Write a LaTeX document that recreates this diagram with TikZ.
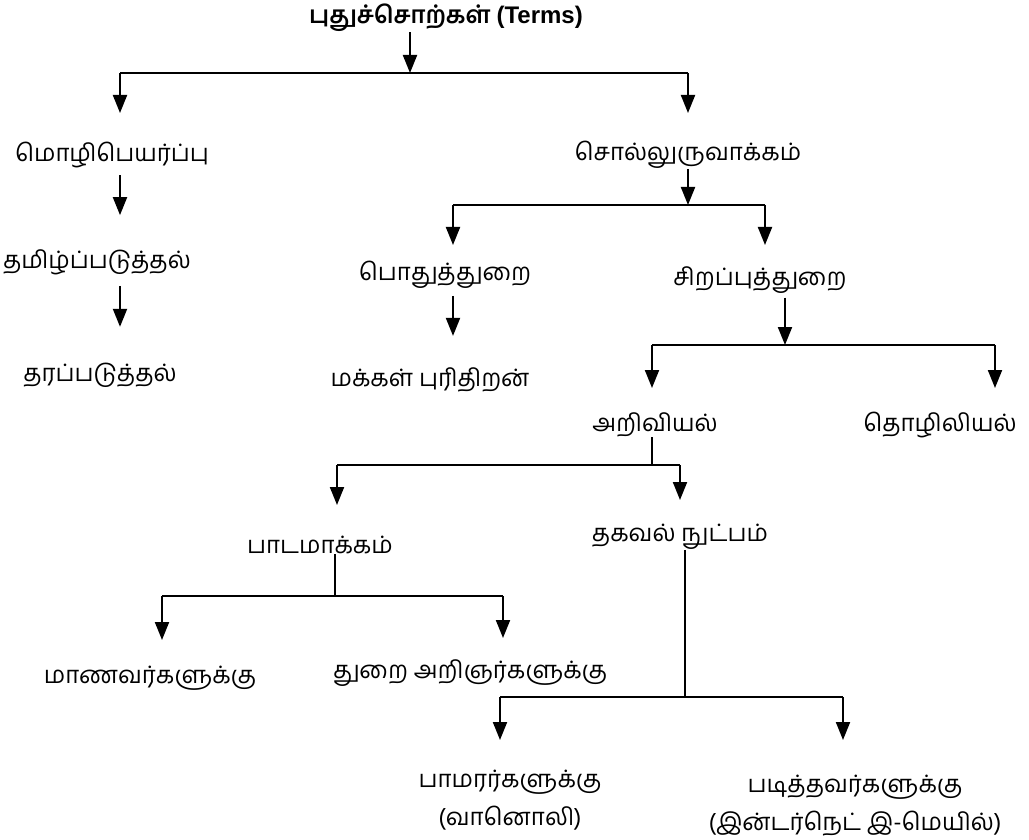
\documentclass[tikz,border=0pt]{standalone}
\usepackage{fontspec}
\setmainfont{Liberation Sans}
\newfontfamily\tamilfont[Script=Tamil]{Hind Madurai}
\usetikzlibrary{arrows.meta, positioning}
\tikzset{
    term/.style={font=\tamilfont\fontsize{24}{38}\selectfont, inner sep=0pt, align=center},
    headterm/.style={font=\tamilfont\bfseries\fontsize{24}{28}\selectfont, inner sep=0pt},
    arrowline/.style={draw, line width=2pt, -{Triangle[width=14pt,length=18pt]}},
    barline/.style={draw, line width=2pt}
}

\begin{document}
\begin{tikzpicture}[x=1pt, y=-1pt]
    \useasboundingbox (0,0) rectangle (1029,840);

    % Terms
    \node[headterm] (terms) at (446,18) {புதுச்சொற்கள் {\normalfont\bfseries (Terms)}};
    \coordinate (j0) at (410,73);
    \coordinate (b0L) at (120,73);
    \coordinate (b0R) at (688,73);
    \draw[arrowline] (terms.south -| j0) -- (j0);
    \draw[barline] (b0L) -- (b0R);
    \draw[arrowline] (b0L) -- ++(0,40);
    \draw[arrowline] (b0R) -- ++(0,40);

    % Left column
    \node[term] (mozhi) at (112,155) {மொழிபெயர்ப்பு};
    \node[term] (tamilp) at (97,262) {தமிழ்ப்படுத்தல்};
    \node[term] (tharap) at (100,375) {தரப்படுத்தல்};
    \draw[arrowline, shorten <=7pt] (mozhi.south -| b0L) -- ++(0,47);
    \draw[arrowline, shorten <=11pt] (tamilp.south -| b0L) -- ++(0,52);

    % Word formation
    \node[term] (sol) at (688,155) {சொல்லுருவாக்கம்};
    \coordinate (j1) at (688,205);
    \coordinate (b1L) at (453,205);
    \coordinate (b1R) at (765,205);
    \draw[arrowline] (sol.south) -- (j1);
    \draw[barline] (b1L) -- (b1R);
    \draw[arrowline] (b1L) -- ++(0,40);
    \draw[arrowline] (b1R) -- ++(0,40);

    \node[term] (pothu) at (445,275) {பொதுத்துறை};
    \node[term] (makkal) at (430,380) {மக்கள் புரிதிறன்};
    \draw[arrowline, shorten <=7pt] (pothu.south -| b1L) -- ++(0,47);

    \node[term] (sirap) at (760,280) {சிறப்புத்துறை};
    \coordinate (j2) at (785,345);
    \coordinate (b2L) at (652,345);
    \coordinate (b2R) at (995,345);
    \draw[arrowline, shorten <=4pt] (sirap.south -| j2) -- (j2);
    \draw[barline] (b2L) -- (b2R);
    \draw[arrowline] (b2L) -- ++(0,43);
    \draw[arrowline] (b2R) -- ++(0,43);

    \node[term] (ariv) at (655,425) {அறிவியல்};
    \node[term] (tozhil) at (940,425) {தொழிலியல்};

    % Science
    \coordinate (j3) at (652,465);
    \coordinate (b3L) at (337,465);
    \coordinate (b3R) at (680,465);
    \draw[barline] (ariv.south -| j3) -- (j3);
    \draw[barline] (b3L) -- (b3R);
    \draw[arrowline] (b3L) -- ++(0,40);
    \draw[arrowline] (b3R) -- ++(0,35);

    \node[term] (paadam) at (320,545) {பாடமாக்கம்};
    \node[term] (thagaval) at (680,537) {தகவல் நுட்பம்};

    % Textbooks
    \coordinate (j4) at (335,596);
    \coordinate (b4L) at (162,596);
    \coordinate (b4R) at (503,596);
    \draw[barline] (paadam.south -| j4) -- (j4);
    \draw[barline] (b4L) -- (b4R);
    \draw[arrowline] (b4L) -- ++(0,44);
    \draw[arrowline] (b4R) -- ++(0,42);

    \node[term] (maanavar) at (150,678) {மாணவர்களுக்கு};
    \node[term] (thurai) at (470,673) {துறை அறிஞர்களுக்கு};

    % Information technology
    \coordinate (j5) at (685,697);
    \coordinate (b5L) at (500,697);
    \coordinate (b5R) at (843,697);
    \draw[barline] (thagaval.south -| j5) -- (j5);
    \draw[barline] (b5L) -- (b5R);
    \draw[arrowline] (b5L) -- ++(0,43);
    \draw[arrowline] (b5R) -- ++(0,43);

    \node[term] (paamarar) at (510,800) {பாமரர்களுக்கு\\(வானொலி)};
    \node[term] (padithavar) at (855,806) {படித்தவர்களுக்கு\\(இன்டர்நெட் இ-மெயில்)};

\end{tikzpicture}
\end{document}
